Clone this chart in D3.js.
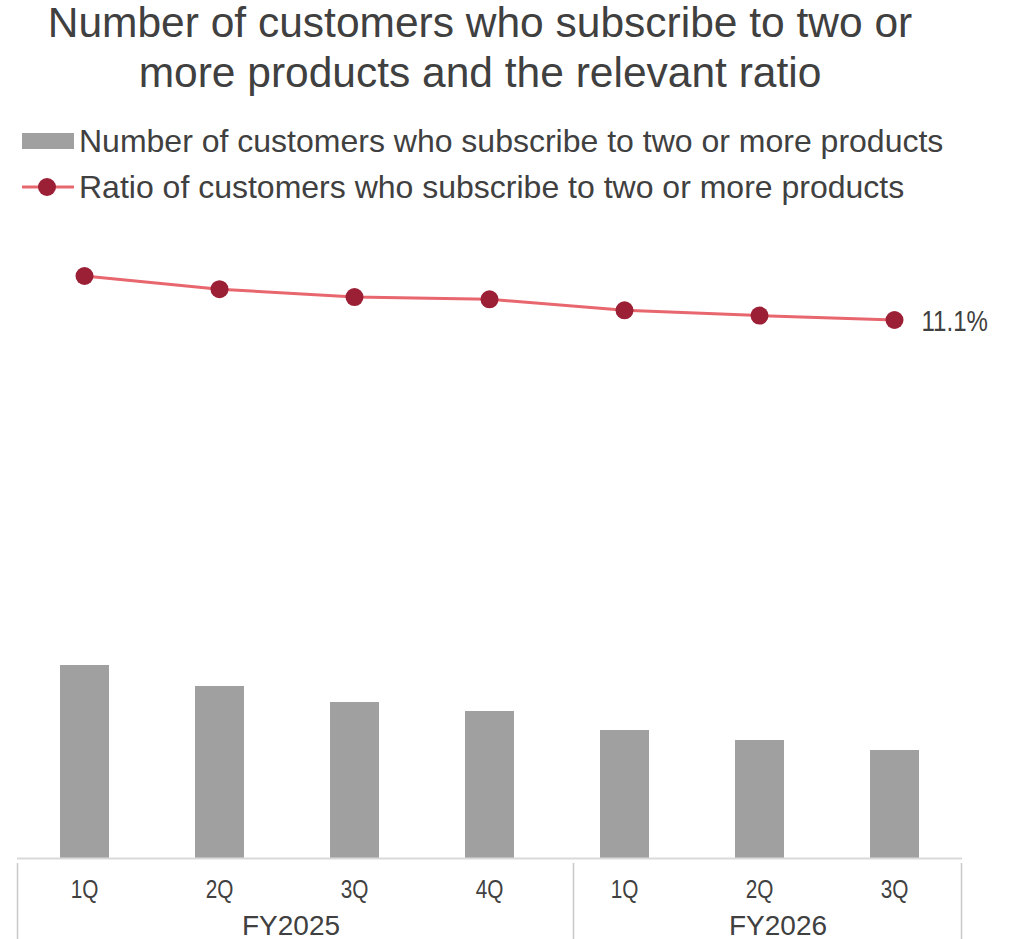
<!DOCTYPE html>
<html>
<head>
<meta charset="utf-8">
<script src="https://cdn.jsdelivr.net/npm/d3@7/dist/d3.min.js"></script>
<style>
  html, body { margin: 0; padding: 0; background: #ffffff; }
  svg { display: block; }
  text { font-family: "Liberation Sans", Arial, sans-serif; fill: #404040; }
</style>
</head>
<body>
<svg id="chart" width="1017" height="939"></svg>
<script>
// Quarterly categories, grouped by fiscal year
const quarterLabels = ["1Q", "2Q", "3Q", "4Q", "1Q", "2Q", "3Q"];
const fiscalYears = ["FY2025", "FY2025", "FY2025", "FY2025", "FY2026", "FY2026", "FY2026"];
const yearGroups = ["FY2025", "FY2026"];

// Number of customers subscribing to two or more products (thousands)
const customerCounts = [96.5, 86, 78, 73.5, 64, 59, 54];
// Ratio of such customers (%)
const customerRatios = [12.1, 11.8, 11.62, 11.57, 11.32, 11.2, 11.1];

const titleLines = ["Number of customers who subscribe to two or", "more products and the relevant ratio"];
const seriesNames = ["Number of customers who subscribe to two or more products",
                     "Ratio of customers who subscribe to two or more products"];

const keys = quarterLabels.map((q, i) => fiscalYears[i] + " " + q);

const svg = d3.select("#chart");
const W = 1017, H = 939;
const left = 17, right = 962, baseY = 858;
const narrow = 0.83; // horizontal squeeze for the condensed axis / data-label face

const x = d3.scaleBand().domain(keys).range([left, right]).paddingInner(0.637).paddingOuter(0.3185);
const y = d3.scaleLinear().domain([0, 300]).range([baseY, baseY - 600]);
const y2 = d3.scaleLinear().domain([-2, 14]).range([896.4, 192.4]);

const barColor = "#a0a0a0";
const lineColor = "#e8666e";
const markerColor = "#9b1f35";
const gridColor = "#d9d9d9";

// Title
svg.append("g").selectAll("text").data(titleLines).join("text")
  .attr("x", 480).attr("y", (d, i) => 37 + i * 50)
  .attr("text-anchor", "middle")
  .style("font-size", "42.5px")
  .text(d => d);

// Legend
const lg = svg.append("g");
lg.append("rect").attr("x", 22).attr("y", 133).attr("width", 52).attr("height", 16).attr("fill", barColor);
lg.append("text").attr("x", 79).attr("y", 152).style("font-size", "32px").text(seriesNames[0]);
lg.append("line").attr("x1", 22).attr("x2", 74).attr("y1", 187).attr("y2", 187)
  .attr("stroke", lineColor).attr("stroke-width", 3);
lg.append("circle").attr("cx", 47).attr("cy", 187).attr("r", 9).attr("fill", markerColor);
lg.append("text").attr("x", 79).attr("y", 198).style("font-size", "32px").text(seriesNames[1]);

// Bars
svg.append("g").selectAll("rect").data(customerCounts).join("rect")
  .attr("x", (d, i) => x(keys[i]))
  .attr("y", d => y(d))
  .attr("width", x.bandwidth())
  .attr("height", d => y(0) - y(d))
  .attr("fill", barColor);

// Category axis: baseline, quarter labels, fiscal-year groups
const ax = svg.append("g");
ax.append("line").attr("x1", left).attr("x2", right).attr("y1", baseY + 0.5).attr("y2", baseY + 0.5)
  .attr("stroke", gridColor).attr("stroke-width", 2);

ax.selectAll("text.q").data(keys).join("text").attr("class", "q")
  .attr("transform", d => `translate(${x(d) + x.bandwidth() / 2},898) scale(${narrow},1)`)
  .attr("text-anchor", "middle")
  .style("font-size", "25px")
  .text((d, i) => quarterLabels[i]);

// group boundaries
const firstOf = g => keys[fiscalYears.indexOf(g)];
const dividers = [left, x(firstOf("FY2026")) - 27, right - 1];
ax.selectAll("line.div").data(dividers).join("line").attr("class", "div")
  .attr("x1", d => d + 0.5).attr("x2", d => d + 0.5)
  .attr("y1", 863).attr("y2", H)
  .attr("stroke", "#c8c8c8").attr("stroke-width", 1.5);

const yearLabelShift = [-4, 11];
ax.selectAll("text.fy").data(yearGroups).join("text").attr("class", "fy")
  .attr("x", (d, i) => (dividers[i] + dividers[i + 1]) / 2 + yearLabelShift[i])
  .attr("y", 935)
  .attr("text-anchor", "middle")
  .style("font-size", "28px")
  .text(d => d);

// Ratio line
const cx = i => x(keys[i]) + x.bandwidth() / 2;
const line = d3.line().x((d, i) => cx(i)).y(d => y2(d));
svg.append("path").datum(customerRatios)
  .attr("d", line).attr("fill", "none")
  .attr("stroke", lineColor).attr("stroke-width", 3);

svg.append("g").selectAll("circle").data(customerRatios).join("circle")
  .attr("cx", (d, i) => cx(i)).attr("cy", d => y2(d)).attr("r", 9)
  .attr("fill", markerColor);

// Label on the latest point
const last = customerRatios.length - 1;
svg.append("text")
  .attr("transform", `translate(${cx(last) + 27},${y2(customerRatios[last]) + 11}) scale(${narrow},1)`)
  .style("font-size", "29px")
  .text(d3.format(".1f")(customerRatios[last]) + "%");
</script>
</body>
</html>
